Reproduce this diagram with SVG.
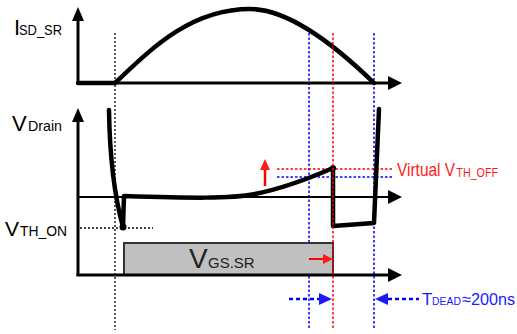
<svg xmlns="http://www.w3.org/2000/svg" width="517" height="334" viewBox="0 0 517 334">
<style>
text{font-family:"Liberation Sans",Arial,sans-serif;}
.ax{stroke:#000;stroke-width:3;fill:none}
.ax2{stroke:#000;stroke-width:2;fill:none}
.wave{stroke:#000;stroke-width:4.5;fill:none;stroke-linejoin:round;stroke-linecap:round}
.dk{stroke:#000;stroke-width:1.3;stroke-dasharray:2,2;fill:none}
.db{stroke:#0000ff;stroke-width:1.5;stroke-dasharray:2.5,2;fill:none}
.dr{stroke:#ff0000;stroke-width:1.5;stroke-dasharray:2.5,2;fill:none}
.blk{fill:#000}
.red{fill:#ff1a1a}
.blu{fill:#1a1aff}
</style>
<g id="guides">
<line class="dk" x1="115" y1="33" x2="115" y2="330"/>
<line class="db" x1="309" y1="33" x2="309" y2="330"/>
<line class="db" x1="374" y1="33" x2="374" y2="330"/>
<line class="dk" x1="80" y1="228" x2="153" y2="228"/>
<line class="dr" x1="277" y1="169" x2="392" y2="169"/>
<line class="db" x1="277" y1="177" x2="392" y2="177"/>
</g>
<g id="axis-isd">
<line class="ax" x1="78" y1="84" x2="78" y2="18"/>
<polygon class="blk" points="78,7 72,21 84,21"/>
<line class="ax" x1="78" y1="83" x2="390" y2="83"/>
<polygon class="blk" points="402,83 388,76 388,90"/>
<text x="14" y="35" font-size="22">I</text>
<text x="19" y="35" font-size="15" textLength="43" lengthAdjust="spacingAndGlyphs">SD_SR</text>
</g>
<g id="isd-wave">
<path class="wave" d="M78,83 L115,83 C150,50 190,9 250,9 C290,9 340,50 374,83"/>
</g>
<g id="axis-vdrain">
<line class="ax" x1="78" y1="276" x2="78" y2="118"/>
<polygon class="blk" points="78,108 72,122 84,122"/>
<line class="ax2" x1="78" y1="197" x2="390" y2="197"/>
<polygon class="blk" points="402,197 388,190 388,204"/>
<text x="12" y="131" font-size="22">V</text>
<text x="28" y="131" font-size="14.5" textLength="34" lengthAdjust="spacingAndGlyphs">Drain</text>
</g>
<g id="vgs-box">
<rect x="124" y="243" width="209" height="32" fill="#c0c0c0" stroke="#333" stroke-width="2"/>
<text x="189" y="268" font-size="28" fill="#222">V</text>
<text x="208" y="268" font-size="15" fill="#222">GS.SR</text>
</g>
<g id="axis-vgs">
<line class="ax" x1="76.5" y1="275" x2="390" y2="275"/>
<polygon class="blk" points="402,275 388,268 388,282"/>
</g>
<g id="vdrain-wave">
<path class="wave" d="M109,110 Q110,180 123,227 L124,196 C190,198 230,199 255,194 C285,188 310,178 333,168 L333,226 L374,223 L379,109"/>
<circle cx="123" cy="227" r="3.5" class="blk"/>
<circle cx="333" cy="168" r="3" class="blk"/>
</g>
<g id="vth-on">
<text x="5" y="236" font-size="21">V</text>
<text x="20" y="236" font-size="15" textLength="47" lengthAdjust="spacingAndGlyphs">TH_ON</text>
</g>
<g id="red-guide">
<line class="dr" x1="333" y1="33" x2="333" y2="330"/>
</g>
<g id="virtual-vth-off">
<line x1="265" y1="186" x2="265" y2="168" stroke="#ff0000" stroke-width="2.5"/>
<polygon class="red" points="265,159 260,170 270,170"/>
<g transform="translate(397,0) scale(0.86,1)">
<text x="0" y="176" font-size="18" class="red">Virtual V</text>
<text x="69" y="177" font-size="12.5" class="red">TH_OFF</text>
</g>
</g>
<g id="shift-arrow">
<line x1="309" y1="259" x2="325" y2="259" stroke="#ff0000" stroke-width="2"/>
<polygon class="red" points="333,259 323,254 323,264"/>
</g>
<g id="tdead">
<line x1="289" y1="299" x2="320" y2="299" stroke="#0000ff" stroke-width="2.5" stroke-dasharray="4,3"/>
<polygon class="blu" points="332,299 319,293 319,305"/>
<polygon class="blu" points="375,299 388,293 388,305"/>
<line x1="388" y1="299" x2="419" y2="299" stroke="#0000ff" stroke-width="2.5" stroke-dasharray="4,3"/>
<text x="422" y="305" font-size="17" class="blu">T</text>
<text x="432" y="305" font-size="10.5" class="blu" textLength="29" lengthAdjust="spacingAndGlyphs">DEAD</text>
<text x="462" y="305" font-size="17" class="blu" textLength="53" lengthAdjust="spacingAndGlyphs">≈200ns</text>
</g>
</svg>
